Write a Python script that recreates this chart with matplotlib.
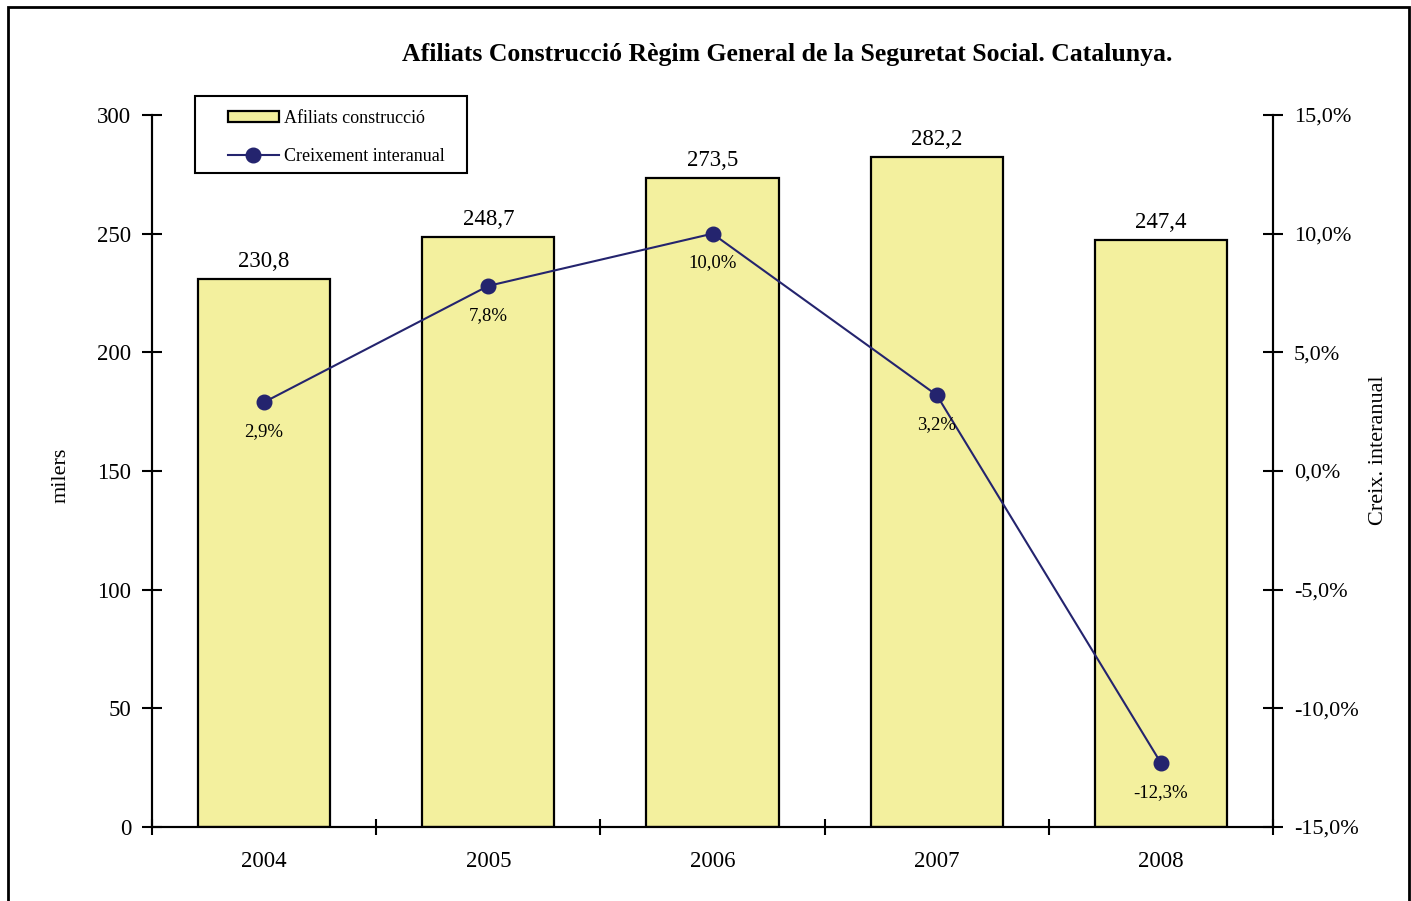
import matplotlib
matplotlib.use("Agg")
from matplotlib import pyplot as plt
from matplotlib.patches import Rectangle
import numpy as np

years = ["2004", "2005", "2006", "2007", "2008"]
afiliats = [230.8, 248.7, 273.5, 282.2, 247.4]
creixement = [2.9, 7.8, 10.0, 3.2, -12.3]

plt.rcParams['font.family'] = ['Liberation Serif', 'DejaVu Serif']

bar_color = '#F3F09E'
line_color = '#24246E'

def fmt(v, dec=1):
    return f"{v:.{dec}f}".replace('.', ',')

W, H = 1411, 901
fig = plt.figure(figsize=(W/100, H/100), dpi=100)
ax = fig.add_axes([152/W, 1-827/H, (1273-152)/W, (827-115)/H])
ax2 = ax.twinx()

# marc exterior
fig.patches.append(Rectangle((8/W, -0.05), (1409-8)/W, 1.05 - 7/H, transform=fig.transFigure,
                             fill=False, edgecolor='black', linewidth=2))
# marc de la llegenda
fig.patches.append(Rectangle((195/W, 1-173/H), (467-195)/W, (173-96)/H, transform=fig.transFigure,
                             fill=True, facecolor='white', edgecolor='black', linewidth=1.5, zorder=5))

x = np.arange(len(years))
ax.bar(x, afiliats, width=0.59, color=bar_color, edgecolor='black', linewidth=1.6,
       label='Afiliats construcció', zorder=2)
for xi, v in zip(x, afiliats):
    ax.text(xi, v + 3, fmt(v), ha='center', va='bottom', fontsize=16.5)

ax.set_xlim(-0.5, 4.5)
ax.set_ylim(0, 300)
ax.set_yticks(np.arange(0, 301, 50))
ax.set_xticks(np.arange(-0.5, 4.6, 1.0))
ax.set_xticklabels([])
ax.set_xticks(x, minor=True)
ax.set_xticklabels(years, minor=True)
ax.tick_params(axis='x', which='minor', length=0, labelsize=16.5, pad=17)
ax.tick_params(axis='x', which='major', direction='inout', length=12, width=1.5)
ax.tick_params(axis='y', direction='inout', length=14, width=1.5, labelsize=16.5, pad=8)
ax.set_ylabel('milers', fontsize=16)
ax.yaxis.set_label_coords(-0.0725, 0.494)

ax2.plot(x, creixement, color=line_color, marker='o', markersize=10.5, linewidth=1.5,
         label='Creixement interanual', zorder=3)
for xi, v in zip(x, creixement):
    ax2.annotate(fmt(v) + '%', (xi, v), xytext=(0, -15), textcoords='offset points',
                 ha='center', va='top', fontsize=13.5)
ax2.set_ylim(-15, 15)
ax2.set_yticks(np.arange(-15, 16, 5))
ax2.set_yticklabels([fmt(v) + '%' for v in np.arange(-15, 16, 5)])
ax2.tick_params(axis='y', direction='inout', length=14, width=1.5, labelsize=16, pad=8)
ax2.set_ylabel('Creix. interanual', fontsize=16)
ax2.yaxis.set_label_coords(1.0855, 0.529)

for a in (ax, ax2):
    a.spines['top'].set_visible(False)
    for s in ('left', 'right', 'bottom'):
        a.spines[s].set_linewidth(1.5)
ax.set_zorder(ax2.get_zorder() - 1)
ax2.patch.set_visible(False)
ax.patch.set_visible(False)

h1, l1 = ax.get_legend_handles_labels()
h2, l2 = ax2.get_legend_handles_labels()
leg = fig.legend(h1 + h2, l1 + l2, loc='upper left', bbox_to_anchor=(228/W, 1 - 110/H),
                 fontsize=13, frameon=False, handlelength=2.8, handleheight=0.55,
                 borderpad=0, labelspacing=1.15, handletextpad=0.3, borderaxespad=0)
leg.set_zorder(6)

fig.text(787/W, 1 - 54/H, 'Afiliats Construcció Règim General de la Seguretat Social. Catalunya.',
         ha='center', va='center', fontsize=18.5, fontweight='bold')

fig.savefig('out.png', dpi=100)
